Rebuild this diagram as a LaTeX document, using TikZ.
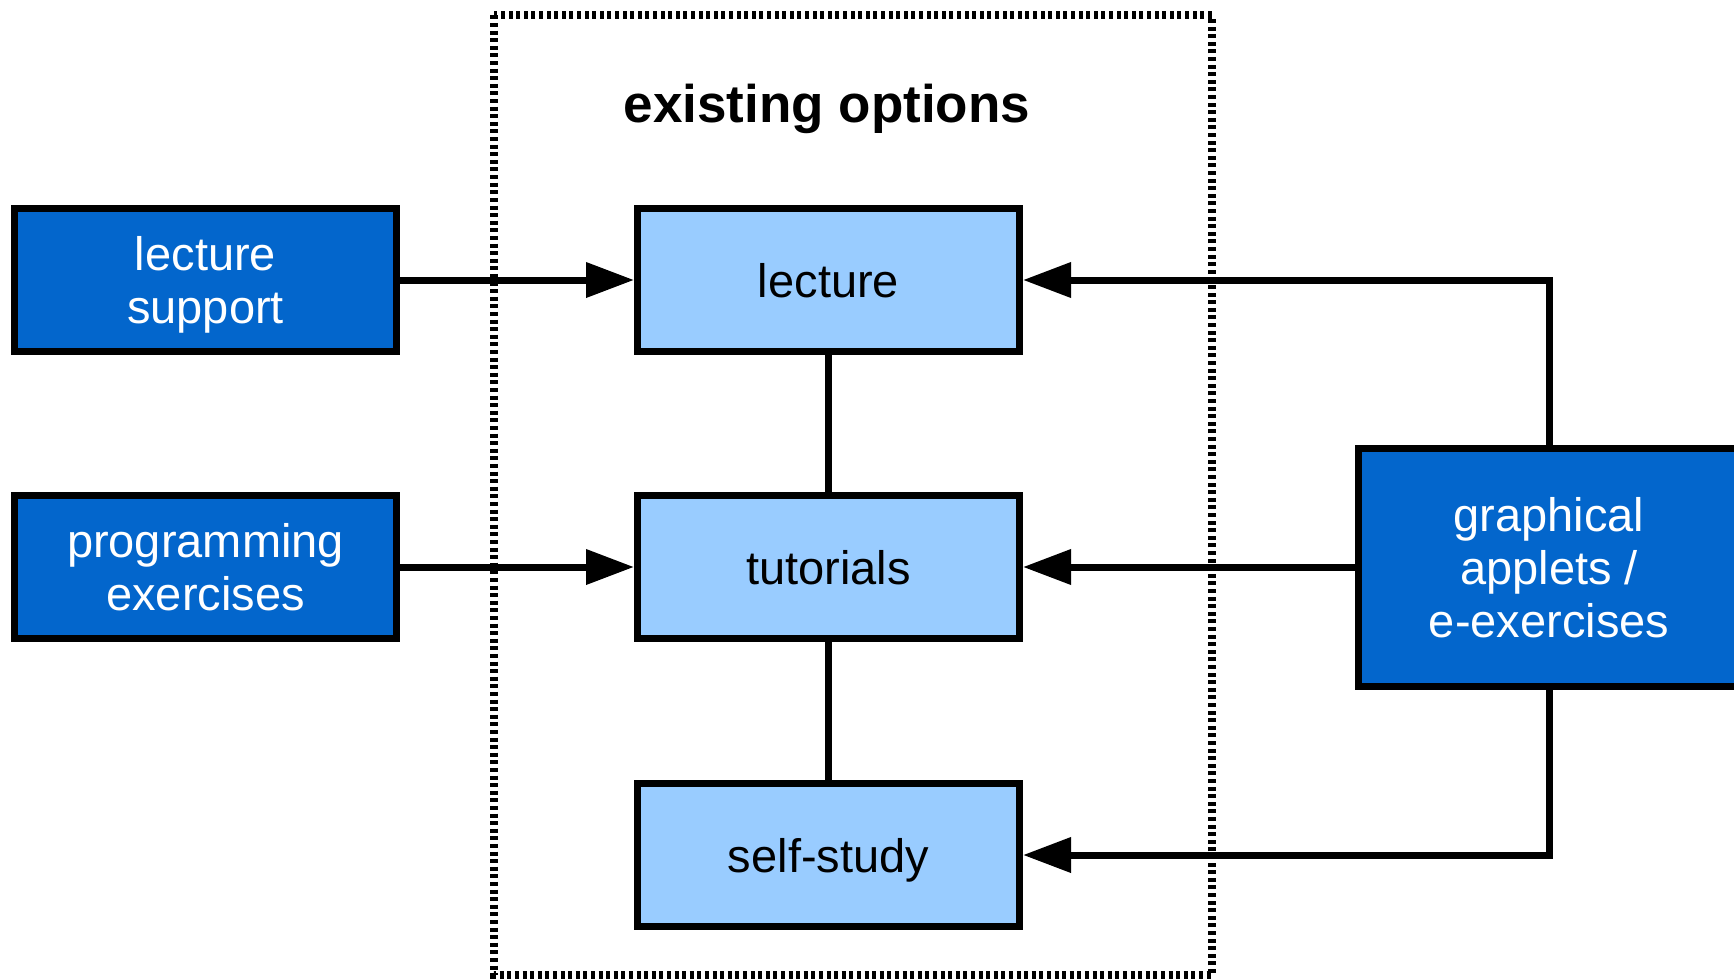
\documentclass[tikz,border=0pt]{standalone}
\usepackage{fontspec}
\setmainfont{Liberation Sans}
\usetikzlibrary{arrows.meta}
\definecolor{darkbox}{RGB}{3,102,204}
\definecolor{lightbox}{RGB}{153,204,255}
\begin{document}
\begin{tikzpicture}[x=0.5pt,y=-0.5pt,
  outerbox/.style={draw,line width=3.5pt,fill=darkbox,text=white,align=center,text depth=0pt,
    minimum width=191pt,minimum height=71.5pt,font=\fontsize{23.5}{26.5}\selectfont},
  innerbox/.style={draw,line width=3.5pt,fill=lightbox,align=center,text depth=0pt,
    minimum width=191pt,minimum height=71.5pt,font=\fontsize{23.5}{26.5}\selectfont},
  link/.style={line width=3.5pt},
  arrow/.style={link,-{Triangle[length=24pt,width=17pt]}}]
\useasboundingbox (0,0) rectangle (1734,979);
\clip (0,0) rectangle (1734,979);

\draw[line width=4pt,dash pattern=on 2pt off 1.8pt] (494,15.5) rectangle (1212,975);
\node[font=\fontsize{26.5}{30}\selectfont\bfseries,text depth=0pt] (title) at (827,103) {existing options};

\node[outerbox] (lsup) at (205.5,280) {lecture\\support};
\node[outerbox] (prog) at (205.5,567) {programming\\exercises};

\node[innerbox] (lect) at (828.5,280) {lecture};
\node[innerbox] (tut) at (828.5,567) {tutorials};
\node[innerbox] (self) at (828.5,855) {self-study};

\node[outerbox,minimum height=119pt] (graph) at (1549,567) {graphical\\applets /\\e-exercises};

\draw[arrow] (lsup)--(lect);
\draw[arrow] (prog)--(tut);
\draw[link] (lect)--(tut);
\draw[link] (tut)--(self);
\draw[arrow] (graph.north) |- (lect.east);
\draw[arrow] (graph)--(tut);
\draw[arrow] (graph.south) |- (self.east);
\end{tikzpicture}
\end{document}
